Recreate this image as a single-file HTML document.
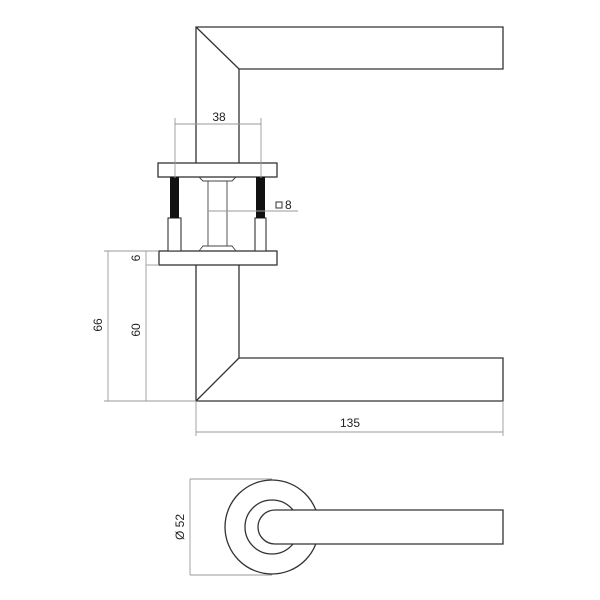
<!DOCTYPE html>
<html><head><style>body{margin:0;background:#fff}svg{display:block}</style></head><body>
<svg width="600" height="600" viewBox="0 0 600 600" xmlns="http://www.w3.org/2000/svg" font-family="Liberation Sans, sans-serif">
<g fill="none" stroke="#333" stroke-width="1.3">
<path d="M196 163 V27 H503 V69 H239 V163"/>
<line x1="196" y1="27" x2="239" y2="69"/>
<path d="M196 265 V401 H503 V358 H239 V265"/>
<line x1="196" y1="401" x2="239" y2="358"/>
<rect x="158" y="163" width="119" height="14" fill="#fff"/>
<rect x="159" y="251" width="118" height="14" fill="#fff"/>
</g>
<g fill="none" stroke="#444" stroke-width="0.9">
<line x1="208" y1="181" x2="208" y2="246"/>
<line x1="227" y1="181" x2="227" y2="246"/>
<path d="M199 177 L203 181 H232 L236 177" />
<path d="M199 251 L203 246 H232 L236 251" />
</g>
<g fill="#fff" stroke="#333" stroke-width="1.1">
<rect x="168" y="218" width="13" height="33"/>
<rect x="255" y="218" width="11" height="33"/>
</g>
<rect x="170" y="177" width="9" height="41" fill="#111"/>
<rect x="256" y="177" width="9" height="41" fill="#111"/>
<g stroke="#999" stroke-width="0.9" fill="none">
<line x1="175" y1="118" x2="175" y2="178"/>
<line x1="261" y1="118" x2="261" y2="178"/>
<line x1="175" y1="124" x2="261" y2="124"/>
<line x1="208" y1="211" x2="298" y2="211"/>
<line x1="104" y1="251" x2="158" y2="251"/>
<line x1="146" y1="265" x2="159" y2="265"/>
<line x1="104" y1="401" x2="196" y2="401"/>
<line x1="108" y1="251" x2="108" y2="401"/>
<line x1="146" y1="251" x2="146" y2="401"/>
<line x1="196" y1="401" x2="196" y2="436"/>
<line x1="503" y1="401" x2="503" y2="436"/>
<line x1="196" y1="432" x2="503" y2="432"/>
<line x1="190" y1="479" x2="272" y2="479"/>
<line x1="190" y1="575" x2="272" y2="575"/>
<line x1="190" y1="479" x2="190" y2="575"/>
</g>
<rect x="276" y="202" width="6" height="6" fill="none" stroke="#333" stroke-width="1"/>
<g fill="#222" font-size="12">
<text x="219" y="121" text-anchor="middle">38</text>
<text x="285" y="209">8</text>
<text x="350" y="427" text-anchor="middle">135</text>
<text transform="translate(102,325) rotate(-90)" text-anchor="middle">66</text>
<text transform="translate(140,330) rotate(-90)" text-anchor="middle">60</text>
<text transform="translate(140,258) rotate(-90)" text-anchor="middle">6</text>
<text transform="translate(184,527) rotate(-90)" text-anchor="middle">Ø 52</text>
</g>
<g fill="none" stroke="#333" stroke-width="1.3">
<circle cx="272" cy="527" r="47"/>
<circle cx="272" cy="527" r="27" />
<path d="M275 510 H503 V544 H275 A17 17 0 0 1 275 510 Z" fill="#fff"/>
</g>
</svg>
</body></html>
